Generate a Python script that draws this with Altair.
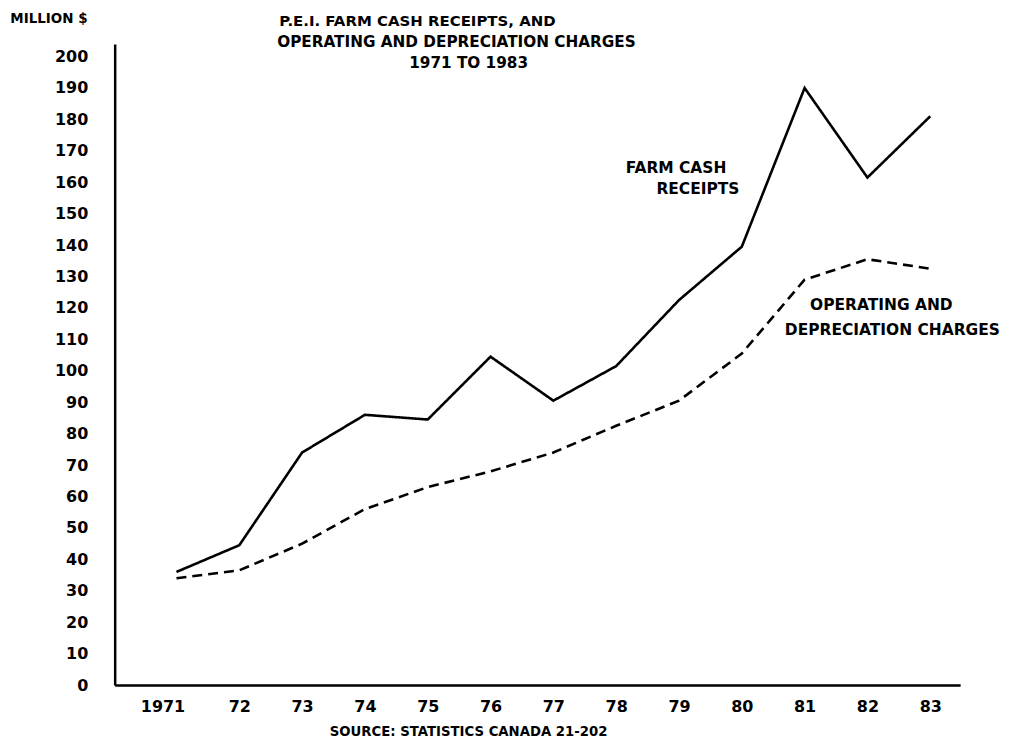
import altair as alt
import pandas as pd

years = list(range(1971, 1984))
receipts = [36, 44.5, 74, 86, 84.5, 104.5, 90.5, 101.5, 122.5, 139.5, 190, 161.5, 181]
charges = [34, 36.5, 45, 56, 63, 68, 74, 82.5, 90.5, 105.5, 129, 135.5, 132.5]
series_names = ["FARM CASH RECEIPTS", "OPERATING AND DEPRECIATION CHARGES"]
y_ticks = list(range(0, 201, 10))
title_lines = ["P.E.I. FARM CASH RECEIPTS, AND", "OPERATING AND DEPRECIATION CHARGES", "1971 TO 1983"]

FONT = "DejaVu Sans"
W, H = 848, 643

df = pd.DataFrame({
    "year": years * 2,
    "value": receipts + charges,
    "series": [series_names[0]] * len(years) + [series_names[1]] * len(years),
})

xscale = alt.Scale(domain=[1970.016, 1983.476], nice=False, zero=False)
yscale = alt.Scale(domain=[0, 204], nice=False, zero=True)

base = alt.Chart(df)

lines = base.mark_line(color="black", strokeWidth=2.6).encode(
    x=alt.X("year:Q", scale=xscale,
            axis=alt.Axis(values=years, title=None, grid=False, tickSize=0,
                          labelExpr="datum.value == 1971 ? '1971' : substring(toString(datum.value), 2, 4)",
                          labelFont=FONT, labelFontWeight="bold", labelFontSize=16,
                          labelColor="black", labelPadding=14,
                          labelOffset={"condition": {"test": "datum.value == 1971", "value": -14}, "value": 0},
                          domainColor="black", domainWidth=2.5)),
    y=alt.Y("value:Q", scale=yscale,
            axis=alt.Axis(values=y_ticks, title=None, grid=False, tickSize=0,
                          labelFont=FONT, labelFontWeight="bold", labelFontSize=16,
                          labelColor="black", labelPadding=27,
                          domainColor="black", domainWidth=2.5)),
    strokeDash=alt.StrokeDash("series:N", legend=None,
                              scale=alt.Scale(domain=series_names, range=[[1, 0], [10, 6]])),
)


def txt(s, x, y, size=16, align="center"):
    return alt.Chart(pd.DataFrame({"t": [s]})).mark_text(
        font=FONT, fontWeight="bold", fontSize=size, color="black",
        align=align, baseline="middle"
    ).encode(x=alt.value(x), y=alt.value(y), text="t:N")


texts = [
    txt("MILLION $", -66, -25, 13.5),
    txt(title_lines[0], 165, -23, 15, "left"),
    txt(title_lines[1], 163, -2, 15.3, "left"),
    txt(title_lines[2], 355, 19, 15.3),
    txt("FARM CASH", 563, 124, 15.5),
    txt("RECEIPTS", 585, 145, 15.5),
    txt("OPERATING AND", 769, 262, 15.5),
    txt("DEPRECIATION CHARGES", 780, 287, 15.5),
    txt("SOURCE: STATISTICS CANADA 21-202", 355, 690, 13.3),
]

chart = alt.layer(lines, *texts).properties(
    width=W, height=H,
    autosize=alt.AutoSizeParams(type="none"),
    padding={"left": 107, "top": 35, "right": 45, "bottom": 54},
    background="white",
).configure_view(stroke=None)

chart.save("out.html", embed_options={"renderer": "svg", "actions": False})
